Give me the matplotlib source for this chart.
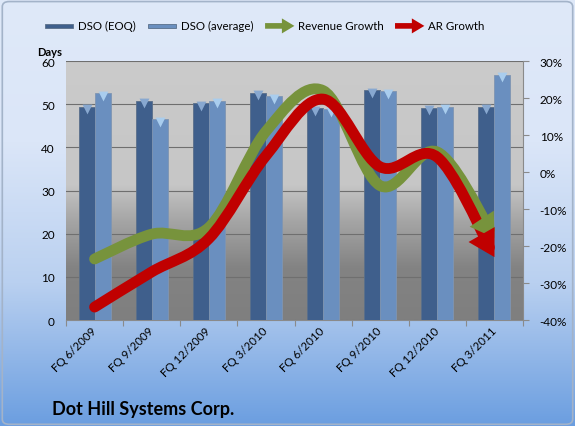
import numpy as np
import matplotlib
matplotlib.use("Agg")
import matplotlib.pyplot as plt
import matplotlib.transforms as mtransforms
from matplotlib.path import Path
from matplotlib.patches import FancyArrowPatch, Rectangle, FancyBboxPatch, PathPatch, Polygon
from matplotlib.ticker import FuncFormatter
from matplotlib.colors import LinearSegmentedColormap
from matplotlib.bezier import split_de_casteljau

plt.rcParams['font.family'] = ['Lato', 'DejaVu Sans']

quarters = ["FQ 6/2009", "FQ 9/2009", "FQ 12/2009", "FQ 3/2010",
            "FQ 6/2010", "FQ 9/2010", "FQ 12/2010", "FQ 3/2011"]
dso_eoq = [49.4, 50.8, 50.2, 52.7, 49.1, 53.3, 49.2, 49.4]
dso_avg = [52.5, 46.5, 50.8, 51.9, 48.8, 53.0, 49.4, 56.8]
revenue_growth = [-0.235, -0.168, -0.150, 0.110, 0.220, -0.037, 0.054, -0.178]
ar_growth = [-0.365, -0.270, -0.180, 0.044, 0.197, 0.014, 0.040, -0.230]

C_EOQ = "#3f5f8c"
C_AVG = "#6a8fbf"
C_REV = "#77933c"
C_AR = "#c00000"


def smooth_segments(xs, ys):
    # Excel-like smoothing: one cubic bezier per pair of points
    pts = np.column_stack([xs, ys])
    n = len(pts)
    segs = []
    for i in range(n - 1):
        p0 = pts[max(i - 1, 0)]
        p1 = pts[i]
        p2 = pts[i + 1]
        p3 = pts[min(i + 2, n - 1)]
        segs.append([p1, p1 + (p2 - p0) / 6, p2 - (p3 - p1) / 6, p2])
    return segs


def draw_arrow_line(axis, xs, ys, color, head_len=24, head_w=29, cut=0.86):
    segs = smooth_segments(xs, ys)
    tail_ctrl = np.array(segs[-1][2])
    # shorten the last piece so the line stops inside the arrow head
    last, _ = split_de_casteljau(np.array(segs[-1]), cut)
    segs[-1] = list(last)
    verts = [segs[0][0]]
    codes = [Path.MOVETO]
    for s in segs:
        verts += list(s[1:])
        codes += [Path.CURVE4] * 3
    axis.add_patch(PathPatch(Path(verts, codes), fill=False, ec=color, lw=7.8,
                             capstyle="round", joinstyle="round", zorder=5))
    # arrow head in pixel space, pointing along the end tangent
    tip, back = axis.transData.transform([[xs[-1], ys[-1]], tail_ctrl])
    u = (tip - back) / np.hypot(*(tip - back))
    nrm = np.array([-u[1], u[0]])
    base = tip - u * head_len
    head = [tip, base + nrm * head_w / 2, base - nrm * head_w / 2]
    axis.add_patch(Polygon(head, closed=True, fc=color, lw=0,
                           transform=mtransforms.IdentityTransform(), zorder=6))


fig = plt.figure(figsize=(5.75, 4.27), dpi=100)

# figure background gradient
bg = fig.add_axes([0, 0, 1, 1], zorder=-5)
bg_cmap = LinearSegmentedColormap.from_list("bg", ["#dfe9f9", "#dbe6f8", "#b9d0f0", "#6b9ee0"])
bg.imshow(np.linspace(0, 1, 256)[:, None], aspect="auto", cmap=bg_cmap,
          extent=[0, 1, 0, 1], transform=bg.transAxes)
bg.add_patch(FancyBboxPatch((0.004, 0.004), 0.992, 0.99, boxstyle="round,pad=0,rounding_size=0.012",
                            transform=bg.transAxes, fill=False, ec="#a3b3c9", lw=1.2))
bg.set_axis_off()

ax = fig.add_axes([0.1148, 0.2482, 0.7948, 0.6066])
x = np.arange(len(quarters))
w = 0.28

# plot area gradient
pa_cmap = LinearSegmentedColormap.from_list(
    "pa", [(0, "#7f7f7f"), (0.2, "#838383"), (0.38, "#a5a5a5"), (0.52, "#c6c6c6"), (1, "#cbcbcb")])
ax.imshow(np.linspace(0, 1, 256)[:, None], aspect="auto", cmap=pa_cmap, origin="lower",
          extent=[-0.5, 7.5, 0, 60], zorder=0)

ax.bar(x - w / 2, dso_eoq, w, color=C_EOQ, edgecolor="#5a6f8a", lw=0.6, zorder=3)
ax.bar(x + w / 2, dso_avg, w, color=C_AVG, edgecolor="#7f95b2", lw=0.6, zorder=3)
# light caps on top of the bars
ax.scatter(x - w / 2, np.array(dso_eoq) - 0.6, marker="v", s=50, color="#88a8d0", zorder=4, lw=0)
ax.scatter(x + w / 2, np.array(dso_avg) - 0.6, marker="v", s=50, color="#a9cdee", zorder=4, lw=0)

ax.set_xlim(-0.5, 7.5)
ax.set_ylim(0, 60)
ax.set_yticks(range(0, 61, 10))
ax.yaxis.grid(True, color="#6f6f6f", lw=0.8)
for gl in ax.get_ygridlines():
    gl.set_zorder(1)
ax.set_xticks(np.arange(-0.5, 8, 1))
ax.set_xticklabels([])
ax.set_xticks(x, minor=True)
ax.set_xticklabels(quarters, minor=True, rotation=45, ha="right", va="center",
                   rotation_mode="anchor", fontsize=8.3)
offset = mtransforms.ScaledTranslation(1 / 100, -10 / 100, fig.dpi_scale_trans)
for lab in ax.get_xticklabels(minor=True):
    lab.set_transform(lab.get_transform() + offset)
ax.tick_params(axis="x", which="minor", length=0, pad=6)
ax.tick_params(axis="x", which="major", length=4, color="#8a8a8a")
ax.tick_params(axis="y", length=0, labelsize=8.5, pad=8)
for s in ["left", "top", "right"]:
    ax.spines[s].set_visible(False)
ax.spines["bottom"].set_color("#8a8a8a")

ax.text(-0.035, 1.025, "Days", transform=ax.transAxes, fontsize=8, fontweight="bold", ha="center")

ax2 = ax.twinx()
ax2.set_ylim(-0.4, 0.3)
ax2.set_yticks(np.arange(-0.4, 0.31, 0.1))
ax2.yaxis.set_major_formatter(FuncFormatter(lambda v, p: "%d%%" % round(v * 100)))
ax2.tick_params(axis="y", length=4, color="#8a8a8a", labelsize=8.5, pad=8)
for s in ["left", "top", "bottom"]:
    ax2.spines[s].set_visible(False)
ax2.spines["right"].set_color("#8a8a8a")

draw_arrow_line(ax2, x, revenue_growth, C_REV, head_len=23, head_w=29)
draw_arrow_line(ax2, x, ar_growth, C_AR, head_len=26, head_w=30)

# legend
items = [("DSO (EOQ)", "bar", C_EOQ, 0.078), ("DSO (average)", "bar", C_AVG, 0.257),
         ("Revenue Growth", "arrow", C_REV, 0.461), ("AR Growth", "arrow", C_AR, 0.687)]
for label, kind, col, xl in items:
    if kind == "bar":
        fig.patches.append(Rectangle((xl, 0.932), 0.049, 0.01, transform=fig.transFigure,
                                     fc=col, ec="#5a6f8a", lw=0.6))
    else:
        fig.patches.append(FancyArrowPatch((xl, 0.937), (xl + 0.051, 0.937), transform=fig.transFigure,
                                           arrowstyle="simple,head_length=1.0,head_width=1.2,tail_width=0.45",
                                           mutation_scale=9, lw=0, color=col, shrinkA=0, shrinkB=0))
    fig.text(xl + 0.058, 0.937, label, fontsize=8.3, va="center")

fig.text(0.09, 0.028, "Dot Hill Systems Corp.", fontsize=13, fontweight="bold")

fig.savefig("out.png", dpi=100)
